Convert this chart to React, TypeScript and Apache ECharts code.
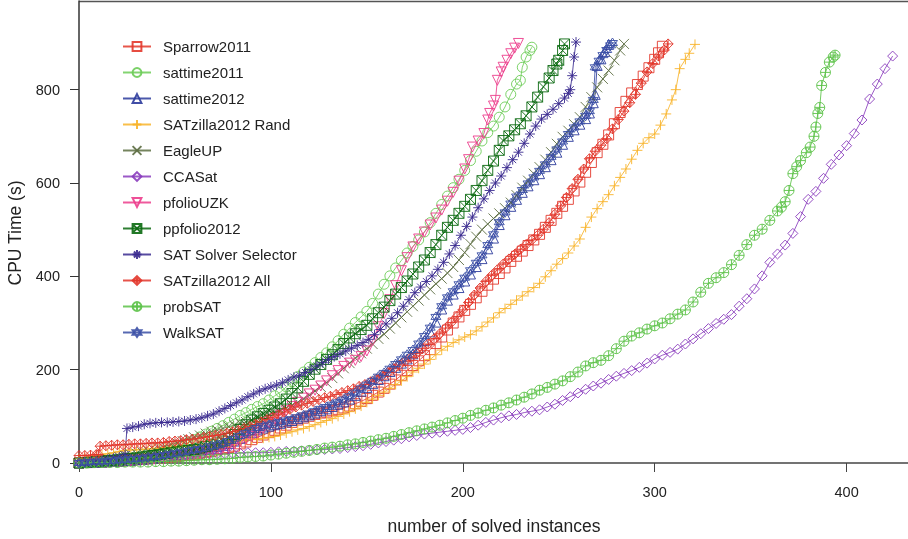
import React, { useEffect, useRef } from "react";
import * as echarts from "echarts";

// [number of solved instances, CPU time (s)]
const sparrow2011 = [[0,0],[3,1],[6,1],[9,2],[12,2],[15,3],[18,4],[21,4],[24,5],[27,6],[30,7],[33,8],[36,9],[39,10],[42,11],[45,12],[48,13],[51,14],[54,16],[57,17],[60,19],[63,21],[66,23],[69,25],[72,28],[75,30],[78,33],[81,36],[84,41],[87,45],[90,50],[93,55],[96,60],[99,65],[102,70],[105,75],[108,81],[111,87],[114,92],[117,96],[120,100],[123,104],[126,107],[129,109],[132,112],[135,115],[138,118],[141,122],[144,127],[147,132],[150,138],[153,145],[156,152],[159,160],[162,169],[165,178],[168,188],[171,198],[174,209],[177,219],[180,230],[183,243],[186,256],[189,270],[192,285],[195,300],[198,313],[201,327],[204,340],[207,354],[210,368],[213,381],[216,394],[219,406],[222,418],[225,432],[228,443],[231,454],[234,466],[237,478],[240,490],[243,505],[246,520],[249,535],[252,550],[255,565],[258,583],[261,602],[264,623],[267,644],[270,665],[273,683],[276,703],[279,727],[282,751],[285,775],[288,793],[291,811],[294,829],[297,847],[300,865],[302,879],[304,893]];
const sattime2011 = [[0,0],[3,1],[6,1],[9,2],[12,3],[15,4],[18,5],[21,6],[24,8],[27,9],[30,11],[33,13],[36,15],[39,17],[42,20],[45,24],[48,28],[51,33],[54,38],[57,44],[60,50],[63,56],[66,62],[69,68],[72,74],[75,80],[78,87],[81,94],[84,102],[87,108],[90,115],[93,121],[96,127],[99,135],[102,144],[105,152],[108,163],[111,174],[114,185],[117,195],[120,205],[123,215],[126,226],[129,236],[132,249],[135,262],[138,276],[141,289],[144,301],[147,313],[150,325],[153,342],[156,362],[159,383],[162,401],[165,418],[168,434],[171,450],[174,464],[177,478],[180,495],[183,515],[186,535],[189,554],[192,572],[195,590],[198,608],[201,627],[204,648],[207,668],[210,690],[213,708],[216,722],[219,741],[222,763],[225,790],[228,812],[230,820],[231,848],[233,870],[235,884],[236,891]];
const sattime2012 = [[0,0],[3,1],[6,1],[9,2],[12,2],[15,3],[18,4],[21,4],[24,5],[27,6],[30,7],[33,8],[36,9],[39,10],[42,12],[45,14],[48,16],[51,18],[54,19],[57,21],[60,24],[63,26],[66,29],[69,32],[72,35],[75,38],[78,42],[81,47],[84,53],[87,59],[90,66],[93,71],[96,75],[99,79],[102,82],[105,85],[108,88],[111,91],[114,95],[117,99],[120,103],[123,107],[126,112],[129,116],[132,121],[135,126],[138,131],[141,137],[144,145],[147,154],[150,162],[153,170],[156,179],[159,187],[162,196],[165,205],[168,214],[171,223],[174,234],[177,247],[180,262],[183,281],[186,302],[189,330],[192,349],[195,362],[198,376],[201,390],[204,405],[207,421],[210,438],[213,459],[216,482],[219,511],[222,532],[225,550],[228,565],[231,580],[234,594],[237,607],[240,620],[243,635],[246,650],[249,666],[252,683],[255,700],[258,714],[261,726],[264,738],[266,750],[268,772],[269,790],[270,852],[272,866],[274,882],[276,897]];
const satzillaRand = [[0,10],[3,11],[6,13],[9,15],[12,17],[15,20],[18,22],[21,25],[24,27],[27,28],[30,28],[33,29],[36,30],[39,31],[42,32],[45,33],[48,34],[51,35],[54,36],[57,37],[60,38],[63,39],[66,40],[69,42],[72,43],[75,44],[78,45],[81,46],[84,48],[87,49],[90,50],[93,51],[96,53],[99,55],[102,57],[105,60],[108,64],[111,67],[114,71],[117,74],[120,78],[123,82],[126,87],[129,91],[132,95],[135,100],[138,105],[141,110],[144,116],[147,122],[150,130],[153,137],[156,145],[159,152],[162,160],[165,168],[168,176],[171,185],[174,195],[177,203],[180,212],[183,222],[186,232],[189,242],[192,250],[195,258],[198,264],[201,270],[204,275],[207,283],[210,292],[213,302],[216,311],[219,322],[222,331],[225,340],[228,349],[231,358],[234,367],[237,376],[240,385],[243,399],[246,412],[249,426],[252,438],[255,450],[258,465],[261,480],[264,505],[267,527],[270,545],[273,560],[276,575],[279,594],[282,612],[285,630],[288,651],[291,670],[294,685],[297,697],[300,705],[303,724],[306,748],[309,778],[311,800],[313,845],[316,865],[318,878],[321,897]];
const eagleUP = [[0,0],[3,1],[6,3],[9,4],[12,6],[15,8],[18,10],[21,13],[24,15],[27,18],[30,20],[33,23],[36,26],[39,29],[42,32],[45,36],[48,40],[51,43],[54,47],[57,51],[60,55],[63,59],[66,63],[69,67],[72,70],[75,74],[78,78],[81,81],[84,85],[87,88],[90,92],[93,96],[96,99],[99,103],[102,108],[105,113],[108,118],[111,124],[114,130],[117,137],[120,145],[123,154],[126,163],[129,172],[132,182],[135,192],[138,203],[141,214],[144,225],[147,235],[150,245],[153,255],[156,266],[159,276],[162,288],[165,300],[168,312],[171,324],[174,336],[177,348],[180,360],[183,372],[186,384],[189,395],[192,407],[195,420],[198,435],[201,451],[204,469],[207,485],[210,500],[213,512],[216,524],[219,535],[222,546],[225,558],[228,574],[231,590],[234,605],[237,620],[240,634],[243,650],[246,666],[249,684],[252,699],[255,712],[258,726],[261,741],[264,763],[267,784],[270,805],[273,823],[276,841],[279,863],[282,884],[284,898]];
const ccaSat = [[0,0],[4,1],[8,2],[12,4],[16,5],[20,7],[24,9],[28,10],[32,11],[36,12],[40,14],[44,15],[48,16],[52,16],[56,17],[60,18],[64,19],[68,19],[72,20],[76,20],[80,21],[84,21],[88,22],[92,22],[96,22],[100,23],[104,24],[108,25],[112,25],[116,26],[120,27],[124,28],[128,29],[132,30],[136,31],[140,33],[144,35],[148,37],[152,40],[156,43],[160,46],[164,49],[168,52],[172,56],[176,59],[180,62],[184,64],[188,66],[192,68],[196,70],[200,72],[204,76],[208,81],[212,87],[216,92],[220,97],[224,101],[228,104],[232,108],[236,111],[240,114],[244,120],[248,126],[252,134],[256,142],[260,150],[264,158],[268,165],[272,171],[276,179],[280,186],[284,192],[288,198],[292,205],[296,214],[300,223],[304,231],[308,237],[312,244],[316,255],[320,266],[324,277],[328,288],[332,299],[336,308],[340,318],[344,336],[348,352],[352,373],[356,401],[360,430],[364,448],[368,467],[372,492],[376,528],[380,565],[384,582],[388,610],[392,640],[396,660],[400,680],[404,706],[408,735],[412,780],[416,812],[420,845],[424,872]];
const pfolioUZK = [[0,0],[3,1],[6,1],[9,2],[12,2],[15,3],[18,4],[21,4],[24,5],[27,5],[30,6],[33,7],[36,7],[39,8],[42,9],[45,10],[48,11],[51,12],[54,14],[57,16],[60,18],[63,20],[66,23],[69,26],[72,29],[75,33],[78,37],[81,41],[84,46],[87,51],[90,57],[93,64],[96,74],[99,86],[102,95],[105,103],[108,112],[111,121],[114,130],[117,139],[120,148],[123,156],[126,165],[129,176],[132,187],[135,198],[138,207],[141,214],[144,220],[147,228],[150,240],[153,262],[156,292],[159,320],[162,350],[165,380],[168,412],[171,440],[174,463],[177,480],[180,495],[183,510],[186,525],[189,542],[192,561],[195,580],[198,604],[201,630],[203,650],[205,677],[208,690],[211,706],[213,735],[214,749],[216,765],[217,777],[218,820],[220,838],[221,848],[223,863],[225,877],[227,889],[229,899]];
const ppfolio2012 = [[0,0],[3,1],[6,2],[9,3],[12,4],[15,5],[18,6],[21,7],[24,9],[27,10],[30,11],[33,13],[36,15],[39,16],[42,18],[45,20],[48,22],[51,24],[54,26],[57,27],[60,29],[63,32],[66,35],[69,39],[72,43],[75,47],[78,53],[81,61],[84,72],[87,82],[90,92],[93,99],[96,106],[99,113],[102,120],[105,127],[108,137],[111,149],[114,161],[117,175],[120,190],[123,201],[126,211],[129,222],[132,232],[135,243],[138,256],[141,268],[144,277],[147,286],[150,295],[153,309],[156,322],[159,334],[162,348],[165,362],[168,376],[171,390],[174,405],[177,420],[180,435],[183,451],[186,468],[189,488],[192,505],[195,520],[198,535],[201,550],[204,565],[207,584],[210,605],[213,627],[216,647],[219,670],[221,691],[224,701],[227,714],[230,727],[233,744],[236,763],[239,784],[242,806],[245,825],[247,841],[249,855],[250,863],[252,884],[253,898]];
const satSolverSelector = [[0,0],[3,1],[6,3],[9,4],[12,6],[15,8],[18,10],[21,13],[24,18],[25,74],[28,77],[31,79],[34,83],[37,85],[40,86],[43,87],[46,87],[49,88],[52,89],[55,90],[58,92],[61,94],[64,97],[67,101],[70,105],[73,111],[76,117],[79,123],[82,129],[85,135],[88,142],[91,148],[94,154],[97,159],[100,163],[103,167],[106,172],[109,178],[112,184],[115,188],[118,194],[121,200],[124,208],[127,215],[130,222],[133,228],[136,234],[139,240],[142,246],[145,252],[148,258],[151,265],[154,275],[157,286],[160,298],[163,310],[166,322],[169,336],[172,350],[175,365],[178,377],[181,389],[184,401],[187,415],[190,430],[193,448],[196,466],[199,488],[202,507],[205,527],[208,547],[211,566],[214,584],[217,600],[220,615],[223,633],[226,650],[229,666],[232,685],[235,705],[238,722],[241,737],[244,747],[247,758],[250,770],[253,782],[255,792],[256,800],[257,830],[258,870],[259,902]];
const satzillaAll = [[0,16],[3,16],[6,17],[9,18],[10,18],[11,36],[14,37],[17,38],[20,39],[23,39],[26,40],[29,41],[32,41],[35,42],[38,43],[41,43],[44,44],[47,46],[50,47],[53,48],[56,50],[59,51],[62,53],[65,55],[68,57],[71,59],[74,61],[77,64],[80,67],[83,70],[86,74],[89,78],[92,83],[95,88],[98,93],[101,98],[104,103],[107,109],[110,115],[113,120],[116,124],[119,128],[122,132],[125,136],[128,140],[131,143],[134,147],[137,151],[140,155],[143,159],[146,164],[149,168],[152,174],[155,180],[158,187],[161,194],[164,202],[167,210],[170,218],[173,226],[176,235],[179,245],[182,255],[185,266],[188,277],[191,289],[194,301],[197,314],[200,328],[203,344],[206,360],[209,375],[212,389],[215,402],[218,414],[221,426],[224,437],[227,447],[230,458],[233,468],[236,478],[239,488],[242,501],[245,515],[248,533],[251,551],[254,569],[257,588],[260,608],[263,630],[266,652],[269,668],[272,681],[275,695],[278,716],[281,736],[284,754],[287,772],[290,790],[293,814],[296,838],[299,856],[302,872],[305,885],[307,898]];
const probSAT = [[0,0],[4,0],[8,1],[12,1],[16,1],[20,1],[24,2],[28,2],[32,2],[36,2],[40,3],[44,3],[48,4],[52,4],[56,5],[60,6],[64,7],[68,7],[72,8],[76,9],[80,10],[84,12],[88,13],[92,14],[96,15],[100,17],[104,19],[108,21],[112,23],[116,25],[120,27],[124,29],[128,32],[132,34],[136,36],[140,39],[144,41],[148,44],[152,47],[156,50],[160,53],[164,57],[168,61],[172,65],[176,69],[180,73],[184,77],[188,81],[192,86],[196,91],[200,96],[204,102],[208,107],[212,113],[216,118],[220,124],[224,129],[228,135],[232,141],[236,148],[240,156],[244,162],[248,169],[252,176],[256,185],[260,195],[264,208],[268,215],[272,220],[276,230],[280,245],[284,261],[288,272],[292,279],[296,287],[300,294],[304,300],[308,309],[312,319],[316,328],[320,345],[324,366],[328,385],[332,397],[336,408],[340,425],[344,445],[348,468],[352,488],[356,501],[360,520],[364,540],[366,548],[368,560],[370,584],[372,620],[374,635],[376,648],[379,665],[381,677],[383,700],[384,720],[385,749],[386,762],[387,809],[389,837],[391,859],[393,870],[394,874]];
const walkSAT = [[0,0],[3,1],[6,2],[9,3],[12,3],[15,4],[18,5],[21,6],[24,7],[27,8],[30,9],[33,10],[36,12],[39,13],[42,15],[45,17],[48,19],[51,21],[54,23],[57,26],[60,28],[63,30],[66,33],[69,36],[72,39],[75,42],[78,47],[81,52],[84,58],[87,64],[90,70],[93,75],[96,79],[99,82],[102,85],[105,88],[108,91],[111,94],[114,98],[117,102],[120,106],[123,111],[126,116],[129,120],[132,125],[135,130],[138,136],[141,143],[144,151],[147,160],[150,168],[153,176],[156,185],[159,193],[162,202],[165,212],[168,222],[171,232],[174,242],[177,256],[180,272],[183,290],[186,313],[189,336],[192,355],[195,368],[198,383],[201,397],[204,413],[207,429],[210,445],[213,467],[216,490],[219,516],[222,537],[225,556],[228,571],[231,585],[234,599],[237,612],[240,626],[243,640],[246,656],[249,672],[252,689],[255,705],[258,719],[261,732],[264,744],[266,754],[268,778],[269,848],[271,862],[273,874],[275,885],[277,895],[278,900]];

const seriesNames = ["Sparrow2011","sattime2011","sattime2012","SATzilla2012 Rand","EagleUP","CCASat","pfolioUZK","ppfolio2012","SAT Solver Selector","SATzilla2012 All","probSAT","WalkSAT"];
const seriesData = [sparrow2011, sattime2011, sattime2012, satzillaRand, eagleUP, ccaSat, pfolioUZK, ppfolio2012, satSolverSelector, satzillaAll, probSAT, walkSAT];
const colors = ["#e3392c","#6dcc58","#2c3b9c","#f8b42a","#5d6e42","#8a3cbd","#ec3d8c","#0a690f","#3a2a8f","#e2352a","#5cc248","#3a4fa5"];
const symbols = [
  "path://M0,0L10,0L10,10L0,10Z",
  "path://M5,0A5,5 0 1,1 5,10A5,5 0 1,1 5,0Z",
  "path://M5,0L10,9L0,9Z",
  "path://M5,0L5,10M0,5L10,5",
  "path://M0,0L10,10M10,0L0,10",
  "path://M5,0L10,5L5,10L0,5Z",
  "path://M0,0L10,0L5,9Z",
  "path://M0,0L10,0L10,10L0,10ZM0,0L10,10M10,0L0,10",
  "path://M5,0L5,10M0,5L10,5M1.5,1.5L8.5,8.5M8.5,1.5L1.5,8.5",
  "path://M5,0L10,5L5,10L0,5ZM5,0L5,10M0,5L10,5",
  "path://M5,0A5,5 0 1,1 5,10A5,5 0 1,1 5,0ZM5,0L5,10M0,5L10,5",
  "path://M5,0L10,7.5L0,7.5ZM0,2.5L10,2.5L5,10Z",
];
const xTicks = [0, 100, 200, 300, 400];
const yTicks = [0, 200, 400, 600, 800];

const FONT = "'Liberation Sans', Arial, Helvetica, sans-serif";

export default function App() {
  const ref = useRef<HTMLDivElement>(null);
  useEffect(() => {
    const chart = echarts.init(ref.current!, null, { renderer: "svg" });
    chart.setOption({
      animation: false,
      textStyle: { fontFamily: FONT },
      grid: { left: 79, right: 0, top: 1, bottom: 76 },
      xAxis: {
        type: "value",
        min: 0,
        max: 432,
        axisLine: { lineStyle: { color: "#444", width: 1.5 } },
        axisTick: { length: 9, lineStyle: { color: "#444" }, customValues: xTicks },
        axisLabel: { margin: 21, fontSize: 14.5, color: "#222", fontFamily: FONT, customValues: xTicks },
        splitLine: { show: false },
      },
      yAxis: {
        type: "value",
        min: 0,
        max: 990,
        axisLine: { show: true, lineStyle: { color: "#333", width: 1.5 } },
        axisTick: { show: true, length: 9, lineStyle: { color: "#333" }, customValues: yTicks },
        axisLabel: { margin: 19, fontSize: 14.5, color: "#222", fontFamily: FONT, customValues: yTicks },
        splitLine: { show: false },
      },
      legend: {
        orient: "vertical",
        left: 117,
        top: 34,
        itemWidth: 28,
        itemHeight: 11,
        itemGap: 11,
        textStyle: { fontSize: 15, color: "#222", fontFamily: FONT, padding: [0, 0, 0, 7] },
        data: seriesNames,
      },
      graphic: [
        { type: "line", shape: { x1: 79, y1: 1.5, x2: 908, y2: 1.5 }, style: { stroke: "#555", lineWidth: 1.5 } },
        {
          type: "text",
          x: 494,
          y: 526,
          style: { text: "number of solved instances", fontSize: 17.5, fill: "#222", fontFamily: FONT, align: "center", verticalAlign: "middle" },
        },
        {
          type: "text",
          x: 15,
          y: 233,
          rotation: Math.PI / 2,
          style: { text: "CPU Time (s)", fontSize: 17.5, fill: "#222", fontFamily: FONT, align: "center", verticalAlign: "middle" },
        },
      ],
      series: seriesNames.map((name, i) => ({
        name,
        type: "line",
        data: seriesData[i],
        symbol: symbols[i],
        symbolSize: 10,
        showSymbol: true,
        lineStyle: { color: colors[i], width: 1, opacity: 0.85 },
        itemStyle: { color: "rgba(0,0,0,0)", borderColor: colors[i], borderWidth: 1, opacity: 0.9 },
        emphasis: { disabled: true },
      })),
    });
    return () => chart.dispose();
  }, []);
  return <div ref={ref} style={{ position: "fixed", left: 0, top: 0, width: 908, height: 539 }} />;
}
